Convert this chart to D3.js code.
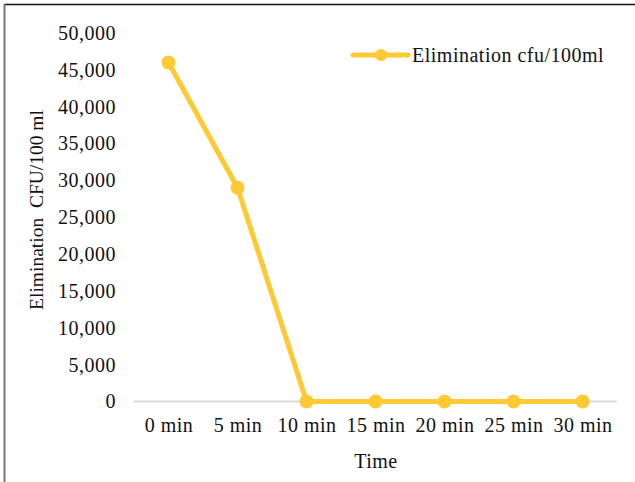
<!DOCTYPE html>
<html>
<head>
<meta charset="utf-8">
<script src="https://cdn.jsdelivr.net/npm/d3@7"></script>
<style>
  html, body { margin: 0; padding: 0; background: #fff; }
  svg { display: block; font-family: "Liberation Serif", "Times New Roman", serif; }
</style>
</head>
<body>
<svg id="chart" width="635" height="482"></svg>
<script>
// Time points and colony counts
const categories = ["0 min", "5 min", "10 min", "15 min", "20 min", "25 min", "30 min"];
const values = [46000, 29000, 0, 0, 0, 0, 0];
const yTicks = [0, 5000, 10000, 15000, 20000, 25000, 30000, 35000, 40000, 45000, 50000];
const seriesName = "Elimination cfu/100ml";
const yTitle = "Elimination  CFU/100 ml";
const xTitle = "Time";

const color = "#FFC933";
const svg = d3.select("#chart");
const W = 635, H = 482;
const wide = "0.5px"; // slightly spread horizontal labels

// outer frame: dark top edge, grey left edge
svg.append("line").attr("x1", 4).attr("x2", W).attr("y1", 4.5).attr("y2", 4.5)
  .attr("stroke", "#111").attr("stroke-width", 1.5);
svg.append("line").attr("x1", 4.5).attr("x2", 4.5).attr("y1", 4).attr("y2", H)
  .attr("stroke", "#777").attr("stroke-width", 2);

const plot = { left: 134, right: 617, top: 33, bottom: 401.5 };

const x = d3.scalePoint().domain(categories)
  .range([plot.left, plot.right]).padding(0.5);
const y = d3.scaleLinear().domain([0, 50000]).range([plot.bottom, plot.top]);

const fmt = d3.format(",");

// category axis (baseline only, no ticks)
const xAxis = svg.append("g").attr("transform", `translate(0,${plot.bottom})`)
  .call(d3.axisBottom(x).tickSize(0).tickPadding(16));
xAxis.select(".domain").attr("stroke", "#d9d9d9").attr("stroke-width", 2)
  .attr("d", `M${plot.left},0H${plot.right}`);
xAxis.selectAll("text").attr("font-size", 20).attr("fill", "#111")
  .attr("font-family", "Liberation Serif").style("letter-spacing", wide);

// value axis (labels only)
const yAxis = svg.append("g").attr("transform", `translate(${plot.left},0)`)
  .call(d3.axisLeft(y).tickValues(yTicks).tickFormat(fmt).tickSize(0).tickPadding(18));
yAxis.select(".domain").remove();
yAxis.selectAll("text").attr("font-size", 20).attr("fill", "#111")
  .attr("font-family", "Liberation Serif").style("letter-spacing", wide);

// series line
const line = d3.line().x((d, i) => x(categories[i])).y(d => y(d));
svg.append("path").datum(values)
  .attr("d", line).attr("fill", "none").attr("stroke", color)
  .attr("stroke-width", 5).attr("stroke-linejoin", "round");

svg.selectAll("circle.pt").data(values).join("circle").attr("class", "pt")
  .attr("cx", (d, i) => x(categories[i])).attr("cy", d => y(d))
  .attr("r", 7).attr("fill", color);

// axis titles
svg.append("text").attr("x", 376).attr("y", 468).attr("text-anchor", "middle")
  .attr("font-size", 20).attr("fill", "#111").style("letter-spacing", wide).text(xTitle);
svg.append("text").attr("transform", "translate(43,210) rotate(-90)")
  .attr("text-anchor", "middle").attr("font-size", 19.5).attr("fill", "#111")
  .style("white-space", "pre").text(yTitle);

// legend
const lg = svg.append("g").attr("transform", "translate(353,55)");
lg.append("line").attr("x1", 0).attr("x2", 55).attr("y1", 0).attr("y2", 0)
  .attr("stroke", color).attr("stroke-width", 5).attr("stroke-linecap", "round");
lg.append("circle").attr("cx", 28).attr("cy", 0).attr("r", 6).attr("fill", color);
lg.append("text").attr("x", 59).attr("y", 7).attr("font-size", 20).attr("fill", "#111")
  .style("letter-spacing", wide).text(seriesName);
</script>
</body>
</html>
